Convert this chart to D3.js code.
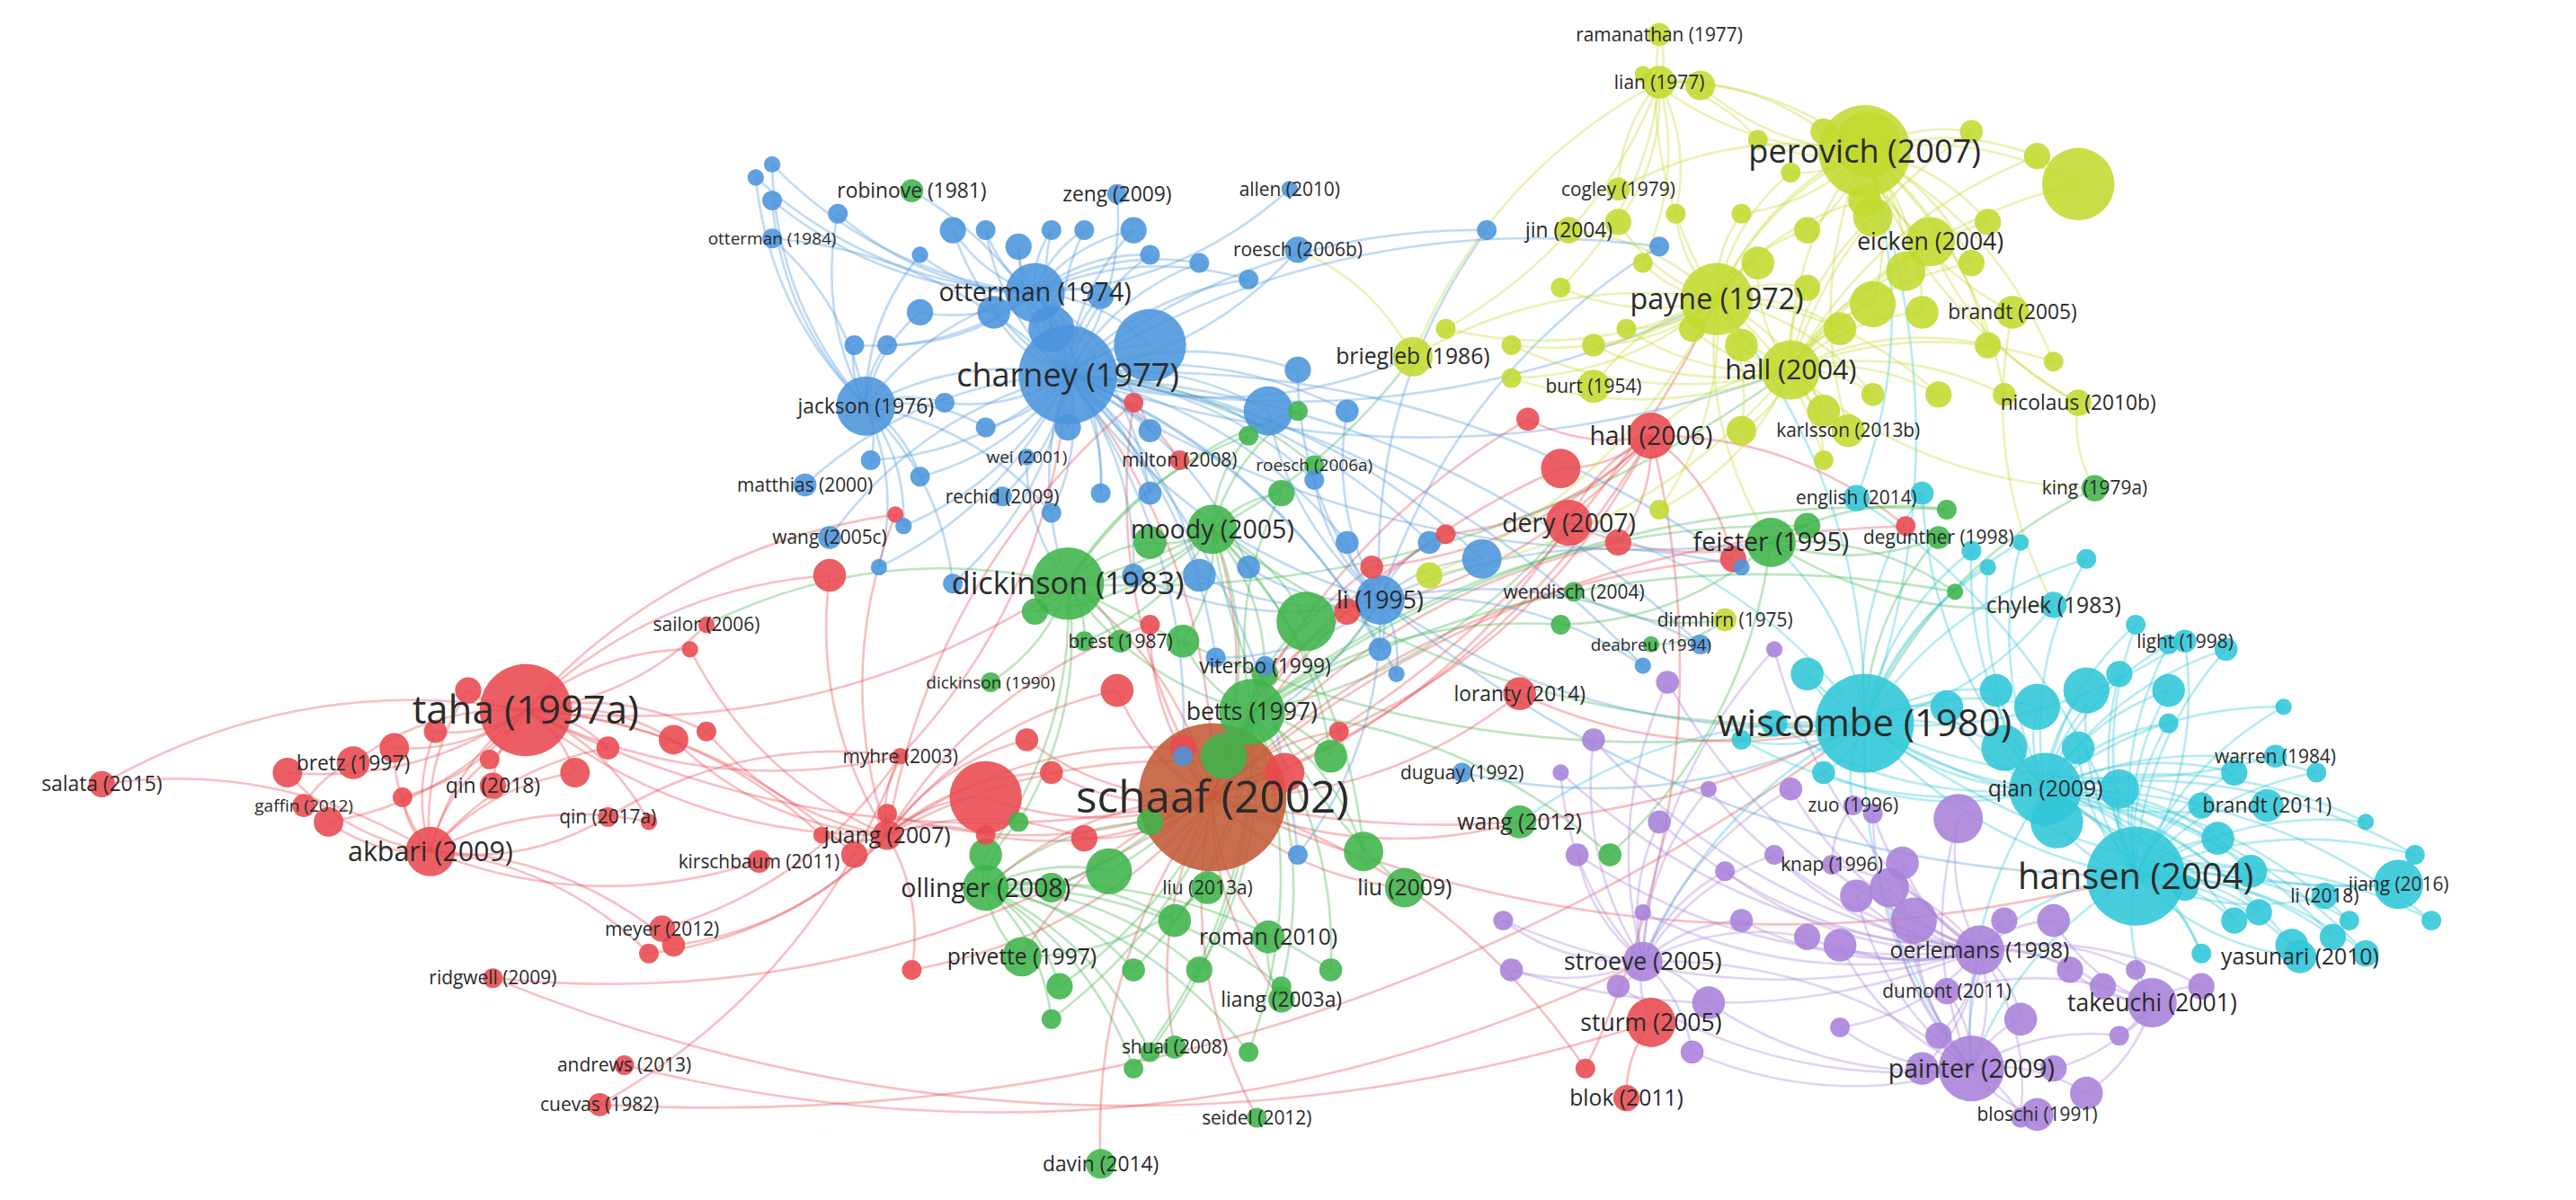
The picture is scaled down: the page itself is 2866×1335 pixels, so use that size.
<!DOCTYPE html>
<html><head><meta charset="utf-8">
<script src="https://cdn.jsdelivr.net/npm/d3@7"></script>
<style>html,body{margin:0;background:#fff}svg{display:block}</style>
</head><body>
<svg id="c" width="2866" height="1335"></svg>
<script>
// Labeled items: [label, layoutX, layoutY, weight(radius), cluster, labelWeight]
const labeledItems = [
["taha (1997a)",320,432,28,"r",23],["schaaf (2002)",738,485,45,"s",26],["akbari (2009)",262,518,15,"r",16],
["bretz (1997)",215,464,10,"r",12],["salata (2015)",62,477,8,"r",12],["qin (2018)",300,478,8,"r",12],
["gaffin (2012)",185,490,7,"r",10],["qin (2017a)",370,497,6,"r",11],["kirschbaum (2011)",462,524,7,"r",11],
["juang (2007)",540,508,9,"r",13],["myhre (2003)",548,460,5,"r",11],["meyer (2012)",403,565,8,"r",11],
["ridgwell (2009)",300,595,6,"r",11],["andrews (2013)",380,648,6,"r",11],["cuevas (1982)",365,672,7,"r",11],
["sailor (2006)",430,380,5,"r",11],["hall (2006)",1005,265,14,"r",15],["dery (2007)",955,318,14,"r",15],
["loranty (2014)",925,422,10,"r",12],["sturm (2005)",1005,622,15,"r",14],["blok (2011)",990,668,8,"r",13],
["charney (1977)",650,228,30,"b",19],["otterman (1974)",630,178,18,"b",15],["jackson (1976)",527,247,18,"b",12],
["zeng (2009)",680,118,6,"b",12],["allen (2010)",785,115,5,"b",11],["otterman (1984)",470,145,6,"b",10],
["roesch (2006b)",790,152,8,"b",11],["matthias (2000)",490,295,7,"b",11],["wang (2005c)",505,327,7,"b",11],
["rechid (2009)",610,302,6,"b",11],["wei (2001)",625,278,5,"b",10],["li (1995)",840,365,15,"b",14],
["viterbo (1999)",770,405,6,"b",12],["duguay (1992)",890,470,6,"b",11],
["robinove (1981)",555,116,7,"g",12],["milton (2008)",718,280,6,"r",11],
["dickinson (1983)",650,355,22,"g",18],["moody (2005)",738,322,15,"g",15],["betts (1997)",762,433,20,"g",14],
["brest (1987)",682,390,7,"g",11],["dickinson (1990)",603,415,6,"g",10],["ollinger (2008)",600,540,14,"g",15],
["liu (2013a)",735,540,10,"g",11],["liu (2009)",855,540,12,"g",13],["roman (2010)",772,570,10,"g",13],
["privette (1997)",622,582,12,"g",13],["liang (2003a)",780,608,8,"g",12],["shuai (2008)",715,637,7,"g",11],
["seidel (2012)",765,680,6,"g",11],["davin (2014)",670,708,9,"g",12],["feister (1995)",1078,330,15,"g",15],
["wang (2012)",925,500,10,"g",13],["king (1979a)",1275,297,8,"g",11],["degunther (1998)",1180,327,7,"g",11],
["deabreu (1994)",1005,392,5,"g",10],["wendisch (2004)",958,360,6,"g",11],["roesch (2006a)",800,283,6,"g",10],
["perovich (2007)",1135,92,28,"y",19],["ramanathan (1977)",1010,21,7,"y",11],["lian (1977)",1010,50,10,"y",11],
["cogley (1979)",985,115,7,"y",11],["jin (2004)",955,140,8,"y",12],["eicken (2004)",1175,147,15,"y",14],
["payne (1972)",1045,182,22,"y",17],["brandt (2005)",1225,190,10,"y",12],["briegleb (1986)",860,217,12,"y",13],
["hall (2004)",1090,225,18,"y",16],["burt (1954)",970,235,10,"y",11],["nicolaus (2010b)",1265,245,8,"y",12],
["karlsson (2013b)",1125,262,10,"y",11],["dirmhirn (1975)",1050,377,7,"y",11],
["english (2014)",1130,303,8,"c",11],["wiscombe (1980)",1135,440,30,"c",22],["hansen (2004)",1300,533,30,"c",21],
["qian (2009)",1245,480,22,"c",13],["chylek (1983)",1250,368,8,"c",13],["light (1998)",1330,390,7,"c",11],
["warren (1984)",1385,460,7,"c",11],["brandt (2011)",1380,490,10,"c",12],["li (2018)",1415,545,8,"c",11],
["jiang (2016)",1460,538,15,"c",11],["yasunari (2010)",1400,582,10,"c",13],
["zuo (1996)",1128,490,6,"p",11],["knap (1996)",1115,526,6,"p",11],["oerlemans (1998)",1205,578,15,"p",13],
["dumont (2011)",1185,603,8,"p",11],["takeuchi (2001)",1310,610,15,"p",14],["painter (2009)",1200,650,20,"p",15],
["bloschi (1991)",1240,678,10,"p",11],["stroeve (2005)",1000,585,12,"p",14]
];
// Unlabeled items per cluster: [layoutX, layoutY, weight]
const redItems = [[600,485,22],[420,395,5],[410,450,9],[370,455,7],[350,470,9],[240,455,9],[175,470,9],[200,500,9],[245,485,6],[298,462,6],[505,350,10],[545,313,5],[500,508,5],[520,520,8],[540,495,6],[625,450,7],[680,420,10],[700,380,6],[720,455,8],[782,470,12],[820,372,8],[835,345,7],[880,325,6],[950,285,12],[985,330,8],[1055,340,8],[1160,320,6],[555,590,6],[395,580,6],[410,575,7],[600,508,6],[640,470,7],[660,510,8],[965,650,6],[430,445,6],[285,420,8],[265,445,7],[395,500,5],[815,445,6],[930,255,7],[690,245,6]];
const greenItems = [[630,372,8],[700,330,10],[795,378,18],[770,410,8],[745,460,14],[810,460,10],[830,518,12],[675,530,14],[700,500,8],[640,540,9],[645,600,8],[690,590,7],[715,560,10],[730,590,8],[810,590,7],[690,650,6],[640,620,6],[760,640,6],[780,600,6],[600,520,10],[620,500,6],[1100,320,8],[1185,310,6],[1190,360,5],[950,380,6],[980,520,7],[780,300,8],[760,265,6],[790,250,6],[720,390,10],[660,390,6],[700,640,6]];
const blueItems = [[460,108,5],[470,122,6],[470,100,5],[510,130,6],[560,155,5],[580,140,8],[600,140,6],[620,150,8],[640,140,6],[660,140,6],[690,140,8],[700,155,6],[730,160,6],[760,170,6],[605,190,10],[640,200,14],[700,210,22],[670,180,8],[560,190,8],[540,210,6],[520,210,6],[575,245,6],[600,260,6],[650,260,8],[700,262,7],[772,250,15],[790,225,8],[820,250,7],[800,292,6],[700,300,7],[670,300,6],[640,312,6],[560,290,6],[530,280,6],[550,320,5],[535,345,5],[580,355,6],[690,350,7],[730,350,10],[760,345,7],[820,330,7],[870,330,7],[902,340,12],[840,395,7],[850,410,5],[740,400,6],[790,520,6],[720,460,6],[1010,150,6],[905,140,6],[1000,405,5],[1035,392,6],[1060,345,5]];
const yellowItems = [[1000,45,5],[1035,52,9],[1070,85,6],[1110,80,8],[1137,88,20],[1265,112,22],[1200,80,7],[1240,95,8],[1135,122,10],[1090,105,6],[1100,140,8],[1140,132,12],[1160,165,12],[1200,160,8],[1210,135,8],[1060,130,6],[1020,130,6],[985,135,8],[1000,160,6],[950,175,6],[1030,200,8],[1060,210,10],[1120,200,10],[1140,185,14],[1170,190,10],[1210,210,8],[1220,240,7],[1250,220,6],[1180,240,8],[1140,240,7],[1110,250,10],[970,210,7],[920,210,6],[880,200,6],[990,200,6],[1060,262,9],[1110,280,6],[1010,310,6],[870,350,8],[920,230,6],[1100,175,8],[1070,160,10]];
const cyanItems = [[1170,300,7],[1200,335,6],[1210,345,5],[1230,330,5],[1270,340,6],[1300,380,6],[1320,392,6],[1290,410,8],[1320,420,10],[1270,420,14],[1240,430,14],[1215,420,10],[1185,430,10],[1220,455,14],[1265,455,10],[1290,480,12],[1340,490,8],[1360,470,8],[1350,510,10],[1330,540,8],[1370,530,10],[1375,555,8],[1395,575,10],[1420,570,8],[1440,580,8],[1430,560,6],[1360,560,8],[1340,580,6],[1252,500,16],[1320,440,6],[1100,410,10],[1080,440,8],[1110,470,7],[1060,450,6],[1390,430,5],[1410,470,6],[1440,500,5],[1470,520,6],[1480,560,6],[1355,395,7]];
const purpleItems = [[1192,498,15],[1158,525,10],[1015,415,7],[1080,395,5],[970,450,7],[950,470,5],[960,520,7],[1010,500,7],[1040,480,5],[1080,520,6],[1060,560,7],[1100,570,8],[1120,575,10],[1130,545,10],[1150,540,12],[1165,560,14],[1220,560,8],[1250,560,10],[1260,590,8],[1280,600,8],[1300,590,6],[1340,600,8],[1290,630,6],[1230,620,10],[1180,630,8],[1170,650,10],[1250,650,8],[1270,665,10],[1230,680,6],[1040,610,10],[1030,640,7],[1000,555,5],[985,600,7],[915,560,6],[920,590,7],[1120,625,6],[1050,530,6],[1090,480,7],[1140,495,6]];
const clusterHubs = {
 r:["taha (1997a)","schaaf (2002)","akbari (2009)","hall (2006)","juang (2007)"],
 g:["dickinson (1983)","betts (1997)","ollinger (2008)","feister (1995)","moody (2005)"],
 b:["charney (1977)","otterman (1974)","jackson (1976)","li (1995)"],
 y:["perovich (2007)","payne (1972)","hall (2004)","lian (1977)"],
 c:["wiscombe (1980)","hansen (2004)","qian (2009)"],
 p:["painter (2009)","oerlemans (1998)","takeuchi (2001)","stroeve (2005)"]
};
const links = [
["taha (1997a)","salata (2015)"],["taha (1997a)","bretz (1997)"],["taha (1997a)","akbari (2009)"],["taha (1997a)","qin (2018)"],["taha (1997a)","schaaf (2002)"],["taha (1997a)","myhre (2003)"],["taha (1997a)","sailor (2006)"],["taha (1997a)","dickinson (1983)"],["akbari (2009)","salata (2015)"],["akbari (2009)","qin (2017a)"],["akbari (2009)","kirschbaum (2011)"],["bretz (1997)","gaffin (2012)"],["taha (1997a)","juang (2007)"],["ridgwell (2009)","schaaf (2002)"],["ridgwell (2009)","sturm (2005)"],["andrews (2013)","stroeve (2005)"],["cuevas (1982)","wiscombe (1980)"],["cuevas (1982)","myhre (2003)"],["meyer (2012)","myhre (2003)"],["schaaf (2002)","betts (1997)"],["schaaf (2002)","dickinson (1983)"],["schaaf (2002)","charney (1977)"],["schaaf (2002)","wiscombe (1980)"],["schaaf (2002)","hansen (2004)"],["schaaf (2002)","liu (2009)"],["schaaf (2002)","ollinger (2008)"],["schaaf (2002)","privette (1997)"],["schaaf (2002)","roman (2010)"],["schaaf (2002)","liang (2003a)"],["schaaf (2002)","moody (2005)"],["schaaf (2002)","dery (2007)"],["schaaf (2002)","hall (2006)"],["schaaf (2002)","payne (1972)"],["schaaf (2002)","wang (2012)"],["schaaf (2002)","loranty (2014)"],["schaaf (2002)","shuai (2008)"],["schaaf (2002)","davin (2014)"],["schaaf (2002)","seidel (2012)"],["charney (1977)","otterman (1974)"],["charney (1977)","jackson (1976)"],["charney (1977)","robinove (1981)"],["charney (1977)","zeng (2009)"],["charney (1977)","otterman (1984)"],["charney (1977)","roesch (2006b)"],["charney (1977)","dickinson (1983)"],["charney (1977)","matthias (2000)"],["charney (1977)","wang (2005c)"],["charney (1977)","li (1995)"],["charney (1977)","briegleb (1986)"],["charney (1977)","payne (1972)"],["charney (1977)","feister (1995)"],["charney (1977)","hall (2004)"],["otterman (1974)","allen (2010)"],["otterman (1974)","jackson (1976)"],["jackson (1976)","otterman (1984)"],["dickinson (1983)","betts (1997)"],["dickinson (1983)","moody (2005)"],["dickinson (1983)","wiscombe (1980)"],["dickinson (1983)","briegleb (1986)"],["dickinson (1983)","hall (2004)"],["dickinson (1983)","sailor (2006)"],["moody (2005)","wiscombe (1980)"],["moody (2005)","liu (2009)"],["betts (1997)","dery (2007)"],["betts (1997)","li (1995)"],["li (1995)","wiscombe (1980)"],["li (1995)","hansen (2004)"],["wiscombe (1980)","hansen (2004)"],["wiscombe (1980)","qian (2009)"],["wiscombe (1980)","chylek (1983)"],["wiscombe (1980)","light (1998)"],["wiscombe (1980)","warren (1984)"],["wiscombe (1980)","brandt (2011)"],["wiscombe (1980)","jiang (2016)"],["wiscombe (1980)","perovich (2007)"],["wiscombe (1980)","payne (1972)"],["wiscombe (1980)","zuo (1996)"],["wiscombe (1980)","painter (2009)"],["wiscombe (1980)","stroeve (2005)"],["wiscombe (1980)","dery (2007)"],["wiscombe (1980)","feister (1995)"],["wiscombe (1980)","wang (2012)"],["hansen (2004)","qian (2009)"],["hansen (2004)","li (2018)"],["hansen (2004)","yasunari (2010)"],["hansen (2004)","takeuchi (2001)"],["hansen (2004)","painter (2009)"],["hansen (2004)","oerlemans (1998)"],["hansen (2004)","english (2014)"],["hansen (2004)","light (1998)"],["qian (2009)","painter (2009)"],["qian (2009)","jiang (2016)"],["painter (2009)","bloschi (1991)"],["painter (2009)","oerlemans (1998)"],["painter (2009)","dumont (2011)"],["painter (2009)","stroeve (2005)"],["oerlemans (1998)","knap (1996)"],["zuo (1996)","knap (1996)"],["takeuchi (2001)","dumont (2011)"],["stroeve (2005)","sturm (2005)"],["sturm (2005)","blok (2011)"],["perovich (2007)","payne (1972)"],["perovich (2007)","eicken (2004)"],["perovich (2007)","brandt (2005)"],["perovich (2007)","lian (1977)"],["perovich (2007)","hall (2004)"],["perovich (2007)","nicolaus (2010b)"],["perovich (2007)","karlsson (2013b)"],["perovich (2007)","cogley (1979)"],["lian (1977)","ramanathan (1977)"],["lian (1977)","cogley (1979)"],["lian (1977)","briegleb (1986)"],["ramanathan (1977)","payne (1972)"],["payne (1972)","briegleb (1986)"],["payne (1972)","jin (2004)"],["payne (1972)","hall (2004)"],["payne (1972)","burt (1954)"],["payne (1972)","feister (1995)"],["hall (2004)","hall (2006)"],["hall (2004)","karlsson (2013b)"],["hall (2004)","king (1979a)"],["hall (2006)","dery (2007)"],["dery (2007)","feister (1995)"],["feister (1995)","degunther (1998)"],["feister (1995)","chylek (1983)"],["briegleb (1986)","roesch (2006b)"],["nicolaus (2010b)","king (1979a)"],["brandt (2005)","chylek (1983)"],["eicken (2004)","nicolaus (2010b)"],["loranty (2014)","wiscombe (1980)"],["myhre (2003)","juang (2007)"],["myhre (2003)","charney (1977)"],["myhre (2003)","qin (2017a)"],["roman (2010)","liang (2003a)"],["privette (1997)","liu (2013a)"],["ollinger (2008)","privette (1997)"],["wendisch (2004)","dirmhirn (1975)"],["deabreu (1994)","dirmhirn (1975)"],["duguay (1992)","wiscombe (1980)"],["milton (2008)","charney (1977)"],["rechid (2009)","charney (1977)"],["wei (2001)","dickinson (1983)"],["viterbo (1999)","betts (1997)"],["brest (1987)","dickinson (1983)"],["dickinson (1990)","dickinson (1983)"],["roesch (2006a)","charney (1977)"],["english (2014)","perovich (2007)"],["king (1979a)","wiscombe (1980)"],["degunther (1998)","wiscombe (1980)"]
];
const clusterColors = {r:"#e8494e",s:"#c25a35",g:"#3db44a",b:"#4a94dc",y:"#c2d92e",c:"#2fc6d8",p:"#a781d9"};

const W=2866,H=1335;
const x=d3.scaleLinear().domain([0,1568]).range([0,W]);
const y=d3.scaleLinear().domain([0,730]).range([0,H]);
const rs=d3.scaleLinear().domain([0,1]).range([0,1.83]);
const fs=d3.scaleLinear().domain([0,1]).range([0,1.9]);

const nodes=[]; const byId={};
labeledItems.forEach(d=>{const n={id:d[0],label:d[0],lx:d[1],ly:d[2],w:d[3],c:d[4],lw:d[5]};nodes.push(n);byId[n.id]=n;});
[["r",redItems],["g",greenItems],["b",blueItems],["y",yellowItems],["c",cyanItems],["p",purpleItems]].forEach(([c,arr])=>{
  arr.forEach((d,i)=>{const n={id:c+i,lx:d[0],ly:d[1],w:d[2],c:c};nodes.push(n);byId[n.id]=n;});
});
const allLinks=links.map(l=>({s:byId[l[0]],t:byId[l[1]]})).filter(l=>l.s&&l.t);
nodes.filter(n=>!n.label).forEach(n=>{
  const hubs=clusterHubs[n.c].map(h=>byId[h]).sort((a,b)=>Math.hypot(a.lx-n.lx,a.ly-n.ly)-Math.hypot(b.lx-n.lx,b.ly-n.ly));
  hubs.slice(0,2).forEach(h=>allLinks.push({s:n,t:h}));
});

const svg=d3.select("#c");
const gL=svg.append("g").attr("fill","none");
gL.selectAll("path").data(allLinks).join("path")
 .attr("d",l=>{const x1=x(l.s.lx),y1=y(l.s.ly),x2=x(l.t.lx),y2=y(l.t.ly);
   const mx=(x1+x2)/2,my=(y1+y2)/2,dx=x2-x1,dy=y2-y1;const k=0.18;
   return `M${x1},${y1}Q${mx-dy*k},${my+dx*k} ${x2},${y2}`;})
 .attr("stroke",l=>clusterColors[l.s.c==="s"?"r":l.s.c])
 .attr("stroke-opacity",0.35).attr("stroke-width",2.6);

svg.append("g").selectAll("circle").data(nodes.slice().sort((a,b)=>b.w-a.w)).join("circle")
 .attr("cx",n=>x(n.lx)).attr("cy",n=>y(n.ly)).attr("r",n=>rs(n.w))
 .attr("fill",n=>clusterColors[n.c]).attr("fill-opacity",0.88);

svg.append("g").selectAll("text").data(nodes.filter(n=>n.label).sort((a,b)=>a.lw-b.lw)).join("text")
 .attr("x",n=>x(n.lx)).attr("y",n=>y(n.ly)).attr("dy","0.35em").attr("text-anchor","middle")
 .attr("font-family","'Open Sans', sans-serif").attr("font-size",n=>fs(n.lw))
 .attr("fill","#2a2a2a").text(n=>n.label);
</script>
</body></html>
